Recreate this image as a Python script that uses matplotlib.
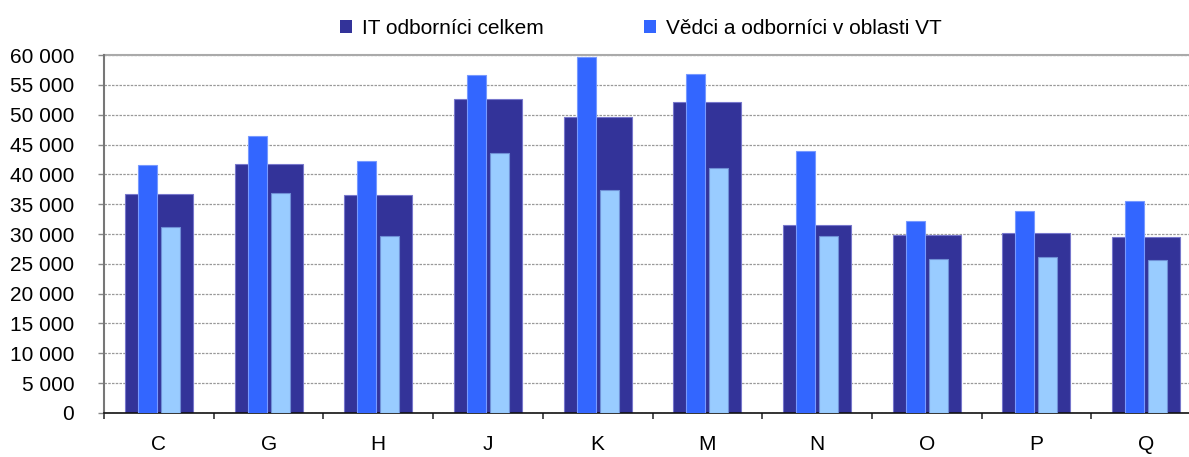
import matplotlib.pyplot as plt
import matplotlib.ticker as mticker
import numpy as np

plt.rcParams['font.family'] = ['Liberation Sans', 'DejaVu Sans']

categories = ['C', 'G', 'H', 'J', 'K', 'M', 'N', 'O', 'P', 'Q']
it_total = [36650, 41730, 36480, 52630, 49550, 52070, 31450, 29830, 30170, 29440]
scientists_vt = [41510, 46480, 42180, 56650, 59720, 56760, 43860, 32120, 33860, 35590]
third_series = [31230, 36820, 29610, 43520, 37320, 41010, 29670, 25750, 26090, 25640]

fig = plt.figure(figsize=(11.89, 4.57), dpi=100)
ax = fig.add_axes([0.0875, 0.0963, 0.9226, 0.7833])

x = np.arange(len(categories))
ax.bar(x, it_total, width=0.62, color='#333399', edgecolor='#7777cc', linewidth=0.8,
       label='IT odborníci celkem', zorder=2)
ax.bar(x - 0.105, scientists_vt, width=0.173, color='#3366ff', edgecolor='#7799ff', linewidth=0.8,
       label='Vědci a odborníci v oblasti VT', zorder=3)
ax.bar(x + 0.105, third_series, width=0.173, color='#99ccff', edgecolor='#6f8fd6', linewidth=0.8,
       label='_nolegend_', zorder=3)

ax.set_ylim(0, 60000)
ax.set_xlim(-0.5, len(categories) - 0.5)
ax.yaxis.set_major_locator(mticker.MultipleLocator(5000))
ax.yaxis.set_major_formatter(mticker.FuncFormatter(lambda v, p: f"{int(v):,}".replace(",", " ")))

# category labels centred, tick marks on the boundaries
ax.set_xticks(x)
ax.set_xticklabels(categories)
ax.tick_params(axis='x', length=0, pad=15.5, labelsize=15)
ax.set_xticks(np.arange(len(categories) + 1) - 0.5, minor=True)
ax.tick_params(axis='x', which='minor', length=4.5, width=1.2, color='#333333')
ax.tick_params(axis='y', length=4.5, width=1, color='#888888', labelsize=15, pad=17)

ax.yaxis.grid(True, linestyle=(0, (2, 1)), color='#999999', linewidth=0.9, zorder=0)
ax.set_axisbelow(True)
for s in ['top', 'right']:
    ax.spines[s].set_visible(False)
ax.spines['left'].set_color('#777777')
ax.spines['left'].set_linewidth(1.5)
ax.spines['bottom'].set_color('#111111')
ax.spines['bottom'].set_linewidth(1.2)
ax.axhline(60000, color='#aaaaaa', linewidth=1.5, zorder=1, clip_on=False)

leg = fig.legend(loc='center', bbox_to_anchor=(0.539, 0.937), ncol=2, frameon=False,
                 fontsize=15, handlelength=0.58, handleheight=0.58, handletextpad=0.48,
                 columnspacing=4.8)
for h in leg.legend_handles:
    h.set_linewidth(0)

fig.savefig('out.png', dpi=100)
